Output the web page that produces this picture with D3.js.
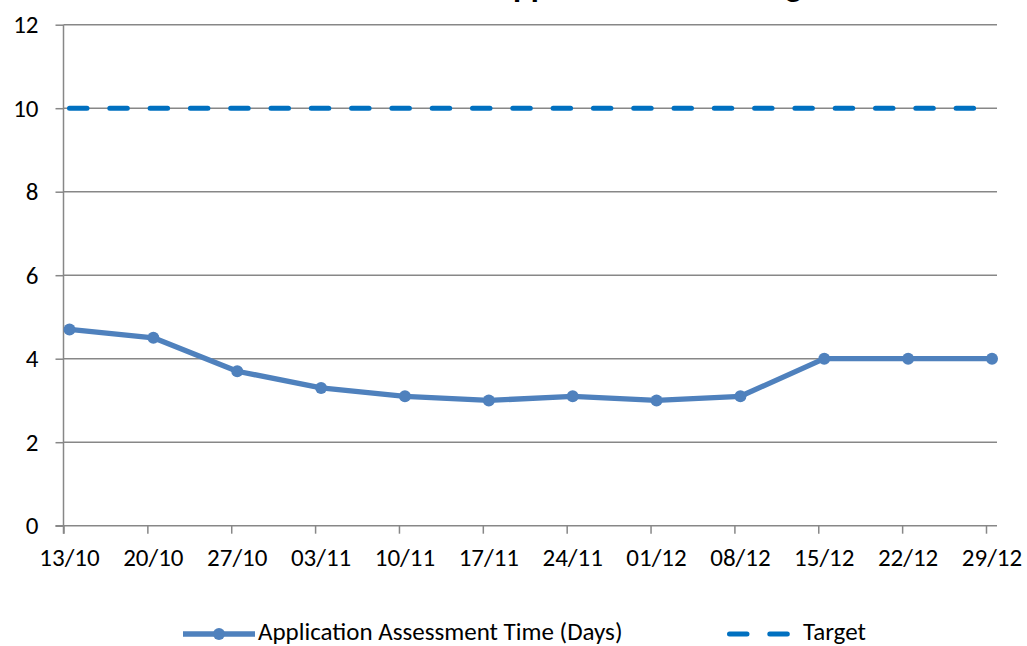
<!DOCTYPE html>
<html>
<head>
<meta charset="utf-8">
<script src="https://cdn.jsdelivr.net/npm/d3@7"></script>
<style>
  html, body { margin: 0; padding: 0; background: #fff; }
  svg { display: block; }
  text { font-family: Carlito, Calibri, Lato, "Open Sans", sans-serif; fill: #000; }
</style>
</head>
<body>
<svg id="chart" width="1027" height="646"></svg>
<script>
// ---- data ----
const chartTitle = "Application Processing Time";
const weeks = ["13/10","20/10","27/10","03/11","10/11","17/11","24/11","01/12","08/12","15/12","22/12","29/12"];
const assessmentDays = [4.7, 4.5, 3.7, 3.3, 3.1, 3.0, 3.1, 3.0, 3.1, 4.0, 4.0, 4.0];
const targetDays = [10, 10, 10, 10, 10, 10, 10, 10, 10, 10, 10, 10];
const yTicks = [0, 2, 4, 6, 8, 10, 12];
const seriesNames = ["Application Assessment Time (Days)", "Target"];

// ---- layout ----
const svg = d3.select("#chart");
const gridColor = "#878787";
const lineColor = "#4F81BD";
const targetColor = "#0070C0";
const fs = 25;

const x = d3.scalePoint().domain(weeks).range([69.5, 992]);
const xTick = d3.scalePoint().domain(weeks).range([63.5, 986]);
const y = d3.scaleLinear().domain([0, 12]).range([525.7, 24.7]);
const plotLeft = 63.5, plotRight = 997;

// title (clipped at top of picture)
svg.append("text")
  .attr("x", 493).attr("y", -3)
  .attr("font-size", 33).attr("font-weight", "bold")
  .text(chartTitle);

// gridlines
svg.append("g").selectAll("line").data(yTicks.filter(d => d > 0)).join("line")
  .attr("x1", plotLeft).attr("x2", plotRight)
  .attr("y1", d => y(d)).attr("y2", d => y(d))
  .attr("stroke", gridColor).attr("stroke-width", 1.5);

// y axis
const yAxis = svg.append("g").attr("transform", `translate(${plotLeft},0)`)
  .call(d3.axisLeft(y).tickValues(yTicks).tickSize(8).tickPadding(17).tickFormat(d3.format("d")));
yAxis.select(".domain").attr("stroke", gridColor).attr("stroke-width", 1.5)
  .attr("d", `M0,${y(12)}V${y(0) + 8}`);
yAxis.selectAll(".tick line").attr("stroke", gridColor).attr("stroke-width", 1.5);
yAxis.selectAll(".tick text").attr("font-size", fs).attr("fill", "#000");

// x axis
const xAxis = svg.append("g").attr("transform", `translate(0,${y(0)})`)
  .call(d3.axisBottom(xTick).tickSize(8).tickFormat(() => ""));
xAxis.select(".domain").attr("stroke", gridColor).attr("stroke-width", 1.5)
  .attr("d", `M${plotLeft - 8},0H${plotRight}`);
xAxis.selectAll(".tick line").attr("stroke", gridColor).attr("stroke-width", 1.5);
svg.append("g").selectAll("text").data(weeks).join("text")
  .attr("x", d => x(d)).attr("y", 566)
  .attr("text-anchor", "middle").attr("font-size", fs)
  .text(d => d);

// target line
svg.append("path")
  .datum(targetDays)
  .attr("fill", "none").attr("stroke", targetColor).attr("stroke-width", 5)
  .attr("stroke-linecap", "round").attr("stroke-dasharray", "17.5 22.8")
  .attr("d", d3.line().x((d, i) => x(weeks[i])).y(d => y(d)));

// assessment line
svg.append("path")
  .datum(assessmentDays)
  .attr("fill", "none").attr("stroke", lineColor).attr("stroke-width", 5.3)
  .attr("stroke-linejoin", "round")
  .attr("d", d3.line().x((d, i) => x(weeks[i])).y(d => y(d)));
svg.append("g").selectAll("circle").data(assessmentDays).join("circle")
  .attr("cx", (d, i) => x(weeks[i])).attr("cy", d => y(d)).attr("r", 6)
  .attr("fill", lineColor);

// legend
const ly = 634;
const lg = svg.append("g");
lg.append("line").attr("x1", 183).attr("x2", 255).attr("y1", ly).attr("y2", ly)
  .attr("stroke", lineColor).attr("stroke-width", 5.3);
lg.append("circle").attr("cx", 219).attr("cy", ly).attr("r", 6).attr("fill", lineColor);
lg.append("text").attr("x", 258).attr("y", 640).attr("font-size", fs).text(seriesNames[0]);
lg.append("line").attr("x1", 729.5).attr("x2", 795).attr("y1", ly).attr("y2", ly)
  .attr("stroke", targetColor).attr("stroke-width", 5)
  .attr("stroke-linecap", "round").attr("stroke-dasharray", "17.5 22.8");
lg.append("text").attr("x", 803).attr("y", 640).attr("font-size", fs).text(seriesNames[1]);
</script>
</body>
</html>
